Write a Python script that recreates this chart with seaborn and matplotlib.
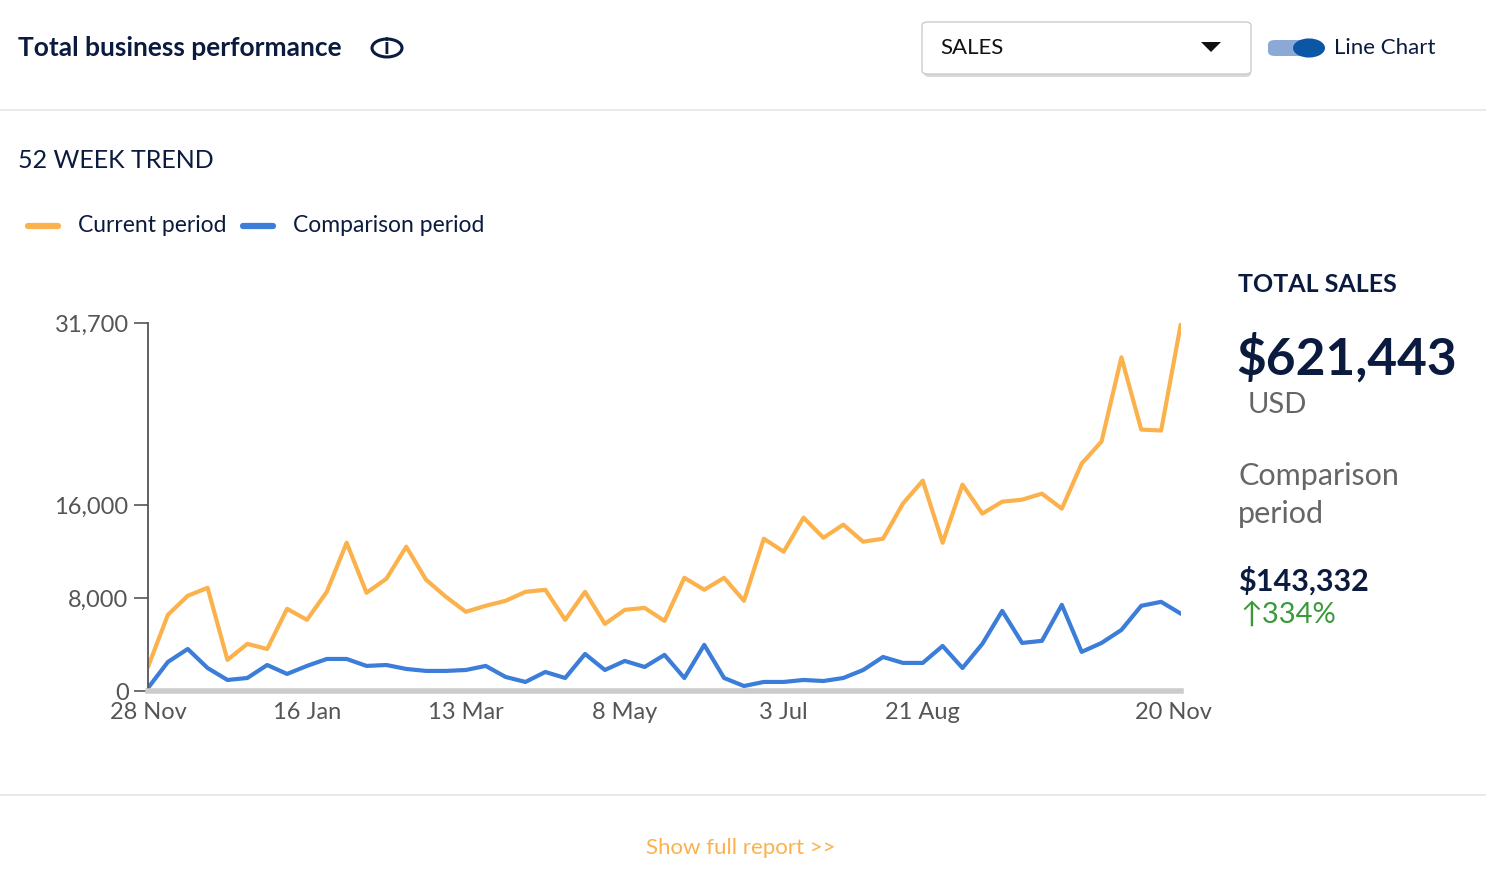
import numpy as np
import pandas as pd
import matplotlib
matplotlib.use("Agg")
import matplotlib.pyplot as plt
from matplotlib.patches import FancyBboxPatch, Circle, Polygon
import seaborn as sns

# weekly values (53 weeks)
current = [2070, 6560, 8200, 8890, 2680, 4060, 3620, 7080, 6130, 8540,
           12770, 8460, 9670, 12430, 9580, 8110, 6820, 7340, 7770, 8540,
           8720, 6130, 8540, 5780, 6990, 7160, 6040, 9750, 8720, 9750,
           7770, 13120, 12000, 14930, 13200, 14330, 12860, 13120, 16140, 18120,
           12770, 17780, 15280, 16310, 16480, 17000, 15710, 19590, 21490, 28740,
           22520, 22440, 31700]
comparison = [260, 2500, 3620, 1980, 950, 1120, 2240, 1470, 2160, 2760,
              2760, 2160, 2240, 1900, 1730, 1730, 1810, 2160, 1210, 780,
              1640, 1120, 3190, 1810, 2590, 2070, 3110, 1120, 3970, 1120,
              430, 780, 780, 950, 860, 1120, 1810, 2930, 2420, 2420,
              3880, 1980, 4060, 6900, 4140, 4320, 7420, 3370, 4140, 5260,
              7340, 7680, 6650]
tick_pos = [0, 8, 16, 24, 32, 39, 51.6]
tick_labels = ["28 Nov", "16 Jan", "13 Mar", "8 May", "3 Jul", "21 Aug", "20 Nov"]
y_ticks = [0, 8000, 16000, 31700]

NAVY = "#0b1b3f"
ORANGE = "#fbb24c"
BLUE = "#3b7dd8"
GRAY = "#666666"

sns.set_style("white")
plt.rcParams['font.family'] = ['Lato', 'DejaVu Sans']

W, H = 1486, 888
fig = plt.figure(figsize=(W / 100, H / 100), dpi=100)

def fx(x):
    return x / W

def fy(y):
    return 1 - y / H

ax = fig.add_axes([fx(148), fy(691), fx(1181) - fx(148), fy(323) - fy(691)])
df = pd.DataFrame({"week": np.arange(len(current)),
                   "Current period": current,
                   "Comparison period": comparison})
long = df.melt("week", var_name="period", value_name="sales")
sns.lineplot(data=long, x="week", y="sales", hue="period",
             palette={"Current period": ORANGE, "Comparison period": BLUE},
             linewidth=3, ax=ax, legend=False)
ax.set_xlim(0, len(current) - 1)
ax.set_ylim(0, 31700)
ax.set_yticks(y_ticks)
ax.set_yticklabels([f"{v:,}" for v in y_ticks])
ax.set_xticks(tick_pos)
ax.set_xticklabels(tick_labels)
ax.set_xlabel("")
ax.set_ylabel("")
for s in ["top", "right"]:
    ax.spines[s].set_visible(False)
ax.spines["left"].set_color("#555555")
ax.spines["left"].set_linewidth(1.3)
ax.spines["bottom"].set_color("#cccccc")
ax.spines["bottom"].set_linewidth(4)
ax.tick_params(axis="y", length=10, width=1.2, color="#555555", labelsize=17,
               labelcolor="#555555", left=True, pad=4)
ax.tick_params(axis="x", length=0, labelsize=17, labelcolor="#555555", pad=8)
ax.patch.set_alpha(0)

# header
fig.text(fx(18), fy(48), "Total business performance", fontsize=19, fontweight="bold",
         color=NAVY, va="center")
fig.patches.append(Circle((fx(387), fy(48)), 15 / W, transform=fig.transFigure,
                          fill=False, ec=NAVY, lw=2.2))
fig.text(fx(387), fy(48), "i", fontsize=16, fontweight="bold", color=NAVY,
         ha="center", va="center")

# dropdown
fig.patches.append(FancyBboxPatch((fx(924), fy(77)), (1251 - 924) / W, 52 / H,
                                  boxstyle="round,pad=0,rounding_size=0.004",
                                  transform=fig.transFigure, fc="#d8d8d8", ec="none"))
fig.patches.append(FancyBboxPatch((fx(922), fy(74)), (1251 - 922) / W, 52 / H,
                                  boxstyle="round,pad=0,rounding_size=0.004",
                                  transform=fig.transFigure, fc="white", ec="#cccccc", lw=1))
fig.text(fx(940), fy(48), "SALES", fontsize=16, color="#111111", va="center")
fig.patches.append(Polygon([(fx(1201), fy(42)), (fx(1221), fy(42)), (fx(1211), fy(52))],
                           transform=fig.transFigure, fc="#111111", ec="none"))

# toggle
fig.patches.append(FancyBboxPatch((fx(1268), fy(56)), 44 / W, 16 / H,
                                  boxstyle="round,pad=0,rounding_size=0.005",
                                  transform=fig.transFigure, fc="#8aa9d6", ec="none"))
fig.patches.append(Circle((fx(1309), fy(48)), 16 / W, transform=fig.transFigure,
                          fc="#0b57a6", ec="none"))
fig.text(fx(1334), fy(48), "Line Chart", fontsize=16, color=NAVY, va="center")

# separators
fig.add_artist(plt.Line2D([0, 1], [fy(110), fy(110)], color="#e6e6e6", lw=1.2))
fig.add_artist(plt.Line2D([0, 1], [fy(795), fy(795)], color="#e6e6e6", lw=1.2))

fig.text(fx(18), fy(161), "52 WEEK TREND", fontsize=18, color=NAVY, va="center")

# legend
fig.add_artist(plt.Line2D([fx(28), fx(58)], [fy(226), fy(226)], color=ORANGE, lw=4.5))
fig.text(fx(78), fy(226), "Current period", fontsize=16.5, color=NAVY, va="center")
fig.add_artist(plt.Line2D([fx(243), fx(273)], [fy(226), fy(226)], color=BLUE, lw=4.5))
fig.text(fx(293), fy(226), "Comparison period", fontsize=16.5, color=NAVY, va="center")

# right panel
fig.text(fx(1238), fy(284), "TOTAL SALES", fontsize=18, fontweight="bold", color=NAVY, va="center")
fig.text(fx(1236), fy(358), "$621,443", fontsize=37, fontweight="bold", color=NAVY, va="center")
fig.text(fx(1248), fy(405), "USD", fontsize=21, color=GRAY, va="center")
fig.text(fx(1238), fy(476), "Comparison", fontsize=22, color=GRAY, va="center")
fig.text(fx(1238), fy(514), "period", fontsize=22, color=GRAY, va="center")
fig.text(fx(1238), fy(581), "$143,332", fontsize=22, fontweight="bold", color=NAVY, va="center")
fig.text(fx(1240), fy(615), "\u2191334%", fontsize=21, color="#3a9a3a", va="center",
         family=["Lato", "DejaVu Sans"])

fig.text(fx(741), fy(848), "Show full report >>", fontsize=16, color=ORANGE,
         ha="center", va="center")

fig.savefig("out.png", dpi=100)
